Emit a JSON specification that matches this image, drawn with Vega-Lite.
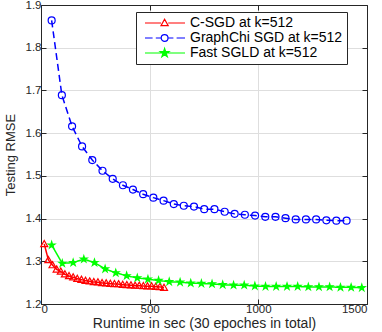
{
  "$schema": "https://vega.github.io/schema/vega-lite/v6.json",
  "autosize": "none",
  "width": 326,
  "height": 299,
  "padding": {"left": 41, "top": 5, "right": 15, "bottom": 28},
  "background": "white",
  "config": {
    "font": "Liberation Sans",
    "view": {"stroke": null},
    "axis": {
      "labelFontSize": 11.5,
      "labelColor": "#262626",
      "titleFontSize": 13,
      "titleFontWeight": "normal",
      "titleColor": "#262626",
      "domainColor": "#262626",
      "tickColor": "#262626",
      "gridColor": "#dedede",
      "gridWidth": 1
    }
  },
  "datasets": {
    "runs": [
      {"series": "C-SGD at k=512", "x": 15, "y": 1.3405},
      {"series": "C-SGD at k=512", "x": 34, "y": 1.303},
      {"series": "C-SGD at k=512", "x": 53, "y": 1.291},
      {"series": "C-SGD at k=512", "x": 72, "y": 1.281},
      {"series": "C-SGD at k=512", "x": 91, "y": 1.276},
      {"series": "C-SGD at k=512", "x": 110, "y": 1.2695},
      {"series": "C-SGD at k=512", "x": 129, "y": 1.2655},
      {"series": "C-SGD at k=512", "x": 148, "y": 1.2625},
      {"series": "C-SGD at k=512", "x": 167, "y": 1.259},
      {"series": "C-SGD at k=512", "x": 186, "y": 1.257},
      {"series": "C-SGD at k=512", "x": 205, "y": 1.2545},
      {"series": "C-SGD at k=512", "x": 224, "y": 1.253},
      {"series": "C-SGD at k=512", "x": 243, "y": 1.2515},
      {"series": "C-SGD at k=512", "x": 262, "y": 1.251},
      {"series": "C-SGD at k=512", "x": 281, "y": 1.249},
      {"series": "C-SGD at k=512", "x": 300, "y": 1.2485},
      {"series": "C-SGD at k=512", "x": 319, "y": 1.2475},
      {"series": "C-SGD at k=512", "x": 338, "y": 1.247},
      {"series": "C-SGD at k=512", "x": 357, "y": 1.2465},
      {"series": "C-SGD at k=512", "x": 376, "y": 1.245},
      {"series": "C-SGD at k=512", "x": 395, "y": 1.2445},
      {"series": "C-SGD at k=512", "x": 414, "y": 1.244},
      {"series": "C-SGD at k=512", "x": 433, "y": 1.243},
      {"series": "C-SGD at k=512", "x": 452, "y": 1.243},
      {"series": "C-SGD at k=512", "x": 471, "y": 1.242},
      {"series": "C-SGD at k=512", "x": 490, "y": 1.2415},
      {"series": "C-SGD at k=512", "x": 509, "y": 1.2415},
      {"series": "C-SGD at k=512", "x": 528, "y": 1.2405},
      {"series": "C-SGD at k=512", "x": 547, "y": 1.24},
      {"series": "C-SGD at k=512", "x": 566, "y": 1.238},
      {"series": "GraphChi SGD at k=512", "x": 49, "y": 1.864},
      {"series": "GraphChi SGD at k=512", "x": 96, "y": 1.689},
      {"series": "GraphChi SGD at k=512", "x": 143, "y": 1.616},
      {"series": "GraphChi SGD at k=512", "x": 189, "y": 1.569},
      {"series": "GraphChi SGD at k=512", "x": 236, "y": 1.537},
      {"series": "GraphChi SGD at k=512", "x": 283, "y": 1.512},
      {"series": "GraphChi SGD at k=512", "x": 330, "y": 1.493},
      {"series": "GraphChi SGD at k=512", "x": 377, "y": 1.478},
      {"series": "GraphChi SGD at k=512", "x": 423, "y": 1.468},
      {"series": "GraphChi SGD at k=512", "x": 470, "y": 1.457},
      {"series": "GraphChi SGD at k=512", "x": 517, "y": 1.449},
      {"series": "GraphChi SGD at k=512", "x": 564, "y": 1.442},
      {"series": "GraphChi SGD at k=512", "x": 611, "y": 1.434},
      {"series": "GraphChi SGD at k=512", "x": 657, "y": 1.43},
      {"series": "GraphChi SGD at k=512", "x": 704, "y": 1.428},
      {"series": "GraphChi SGD at k=512", "x": 751, "y": 1.422},
      {"series": "GraphChi SGD at k=512", "x": 798, "y": 1.422},
      {"series": "GraphChi SGD at k=512", "x": 845, "y": 1.416},
      {"series": "GraphChi SGD at k=512", "x": 891, "y": 1.411},
      {"series": "GraphChi SGD at k=512", "x": 938, "y": 1.409},
      {"series": "GraphChi SGD at k=512", "x": 985, "y": 1.407},
      {"series": "GraphChi SGD at k=512", "x": 1032, "y": 1.404},
      {"series": "GraphChi SGD at k=512", "x": 1079, "y": 1.404},
      {"series": "GraphChi SGD at k=512", "x": 1125, "y": 1.401},
      {"series": "GraphChi SGD at k=512", "x": 1172, "y": 1.398},
      {"series": "GraphChi SGD at k=512", "x": 1219, "y": 1.398},
      {"series": "GraphChi SGD at k=512", "x": 1266, "y": 1.398},
      {"series": "GraphChi SGD at k=512", "x": 1313, "y": 1.396},
      {"series": "GraphChi SGD at k=512", "x": 1359, "y": 1.395},
      {"series": "GraphChi SGD at k=512", "x": 1406, "y": 1.395},
      {"series": "Fast SGLD at k=512", "x": 49, "y": 1.338},
      {"series": "Fast SGLD at k=512", "x": 98, "y": 1.295},
      {"series": "Fast SGLD at k=512", "x": 148, "y": 1.297},
      {"series": "Fast SGLD at k=512", "x": 197, "y": 1.305},
      {"series": "Fast SGLD at k=512", "x": 246, "y": 1.297},
      {"series": "Fast SGLD at k=512", "x": 295, "y": 1.282},
      {"series": "Fast SGLD at k=512", "x": 344, "y": 1.273},
      {"series": "Fast SGLD at k=512", "x": 394, "y": 1.266},
      {"series": "Fast SGLD at k=512", "x": 443, "y": 1.261},
      {"series": "Fast SGLD at k=512", "x": 492, "y": 1.258},
      {"series": "Fast SGLD at k=512", "x": 541, "y": 1.255},
      {"series": "Fast SGLD at k=512", "x": 590, "y": 1.252},
      {"series": "Fast SGLD at k=512", "x": 640, "y": 1.251},
      {"series": "Fast SGLD at k=512", "x": 689, "y": 1.249},
      {"series": "Fast SGLD at k=512", "x": 738, "y": 1.248},
      {"series": "Fast SGLD at k=512", "x": 787, "y": 1.247},
      {"series": "Fast SGLD at k=512", "x": 836, "y": 1.245},
      {"series": "Fast SGLD at k=512", "x": 886, "y": 1.244},
      {"series": "Fast SGLD at k=512", "x": 935, "y": 1.244},
      {"series": "Fast SGLD at k=512", "x": 984, "y": 1.242},
      {"series": "Fast SGLD at k=512", "x": 1033, "y": 1.241},
      {"series": "Fast SGLD at k=512", "x": 1082, "y": 1.241},
      {"series": "Fast SGLD at k=512", "x": 1132, "y": 1.241},
      {"series": "Fast SGLD at k=512", "x": 1181, "y": 1.241},
      {"series": "Fast SGLD at k=512", "x": 1230, "y": 1.24},
      {"series": "Fast SGLD at k=512", "x": 1279, "y": 1.24},
      {"series": "Fast SGLD at k=512", "x": 1328, "y": 1.24},
      {"series": "Fast SGLD at k=512", "x": 1378, "y": 1.239},
      {"series": "Fast SGLD at k=512", "x": 1427, "y": 1.239},
      {"series": "Fast SGLD at k=512", "x": 1476, "y": 1.238}
    ]
  },
  "data": {"name": "runs"},
  "layer": [
    {
      "mark": {"type": "line", "strokeWidth": 1.5},
      "encoding": {
        "x": {"field": "x", "type": "quantitative", "scale": {"domain": [0, 1500], "nice": false},
              "axis": {"values": [0, 500, 1000, 1500], "format": "d", "title": "Runtime in sec (30 epoches in total)", "tickSize": -5, "labelPadding": 4, "titlePadding": 2, "grid": true, "titleFontSize": 14}},
        "y": {"field": "y", "type": "quantitative", "scale": {"domain": [1.2, 1.9], "nice": false, "zero": false},
              "axis": {"values": [1.2, 1.3, 1.4, 1.5, 1.6, 1.7, 1.8, 1.9], "format": ".1f", "title": "Testing RMSE", "tickSize": -5, "labelPadding": 5, "titlePadding": 8, "grid": true}},
        "color": {"field": "series", "type": "nominal", "legend": null,
                  "scale": {"domain": ["C-SGD at k=512", "GraphChi SGD at k=512", "Fast SGLD at k=512"], "range": ["#ff0000", "#0000ff", "#00ff00"]}},
        "strokeDash": {"field": "series", "type": "nominal", "legend": null,
                  "scale": {"domain": ["C-SGD at k=512", "GraphChi SGD at k=512", "Fast SGLD at k=512"], "range": [[1, 0], [7, 4], [1, 0]]}}
      }
    },
    {
      "mark": {"type": "point", "strokeWidth": 1.2, "opacity": 1},
      "encoding": {
        "x": {"field": "x", "type": "quantitative", "axis": null},
        "y": {"field": "y", "type": "quantitative", "axis": null},
        "stroke": {"field": "series", "type": "nominal", "legend": null,
                  "scale": {"domain": ["C-SGD at k=512", "GraphChi SGD at k=512", "Fast SGLD at k=512"], "range": ["#ff0000", "#0000ff", "#00ff00"]}},
        "fill": {"field": "series", "type": "nominal", "legend": null,
                  "scale": {"domain": ["C-SGD at k=512", "GraphChi SGD at k=512", "Fast SGLD at k=512"], "range": ["transparent", "transparent", "#00ff00"]}},
        "shape": {"field": "series", "type": "nominal", "legend": null,
                  "scale": {"domain": ["C-SGD at k=512", "GraphChi SGD at k=512", "Fast SGLD at k=512"], "range": ["M0,-1L1,0.75L-1,0.75Z", "circle", "M0,-1L0.225,-0.31L0.951,-0.309L0.363,0.118L0.588,0.809L0,0.38L-0.588,0.809L-0.363,0.118L-0.951,-0.309L-0.225,-0.31Z"]}},
        "size": {"field": "series", "type": "nominal", "legend": null,
                  "scale": {"domain": ["C-SGD at k=512", "GraphChi SGD at k=512", "Fast SGLD at k=512"], "range": [49, 49, 90]}}
      }
    },
    {
      "transform": [{"filter": "datum.y > 10"}],
      "mark": {"type": "point", "strokeWidth": 1.2},
      "encoding": {
        "x": {"field": "x", "type": "quantitative",
              "axis": {"orient": "top", "values": [0, 500, 1000, 1500], "labels": false, "title": null, "tickSize": -5, "grid": false}},
        "y": {"field": "y", "type": "quantitative",
              "axis": {"orient": "right", "values": [1.2, 1.3, 1.4, 1.5, 1.6, 1.7, 1.8, 1.9], "labels": false, "title": null, "tickSize": -5, "grid": false}},
        "stroke": {"field": "series", "type": "nominal",
                  "scale": {"domain": ["C-SGD at k=512", "GraphChi SGD at k=512", "Fast SGLD at k=512"], "range": ["#ff0000", "#0000ff", "#00ff00"]},
                  "legend": {"title": null, "orient": "none", "legendX": 95, "legendY": 7, "padding": 4, "strokeColor": "#262626", "fillColor": "white", "labelFontSize": 14, "labelColor": "#000000", "symbolSize": 64, "labelOffset": 36, "rowPadding": 1, "symbolStrokeWidth": 1.2, "symbolOpacity": 1}},
        "fill": {"field": "series", "type": "nominal",
                  "scale": {"domain": ["C-SGD at k=512", "GraphChi SGD at k=512", "Fast SGLD at k=512"], "range": ["transparent", "transparent", "#00ff00"]},
                  "legend": {"title": null, "orient": "none", "legendX": 95, "legendY": 7, "padding": 4, "strokeColor": "#262626", "fillColor": "white", "labelFontSize": 14, "labelColor": "#000000", "symbolSize": 64, "labelOffset": 36, "rowPadding": 1, "symbolStrokeWidth": 1.2, "symbolOpacity": 1}},
        "shape": {"field": "series", "type": "nominal",
                  "scale": {"domain": ["C-SGD at k=512", "GraphChi SGD at k=512", "Fast SGLD at k=512"],
                            "range": [
                              "M-0.5,0H3.5M5.3,0H9.5M4.4,-0.95L5.3,0.65L3.5,0.65Z",
                              "M-0.5,0H1.4M2.2,0H3.55M5.25,0H6.6M7.4,0H9.5M5.25,0A0.85,0.85,0,1,1,3.55,0A0.85,0.85,0,1,1,5.25,0",
                              "M-0.5,0H9.5M4.4,-1.15L4.659,-0.356L5.494,-0.355L4.818,0.136L5.076,0.93L4.4,0.44L3.724,0.93L3.982,0.136L3.306,-0.355L4.141,-0.356Z"
                            ]},
                  "legend": {"title": null, "orient": "none", "legendX": 95, "legendY": 7, "padding": 4, "strokeColor": "#262626", "fillColor": "white", "labelFontSize": 14, "labelColor": "#000000", "symbolSize": 64, "labelOffset": 36, "rowPadding": 1, "symbolStrokeWidth": 1.2, "symbolOpacity": 1}}
      }
    }
  ],
  "resolve": {
    "scale": {"color": "independent", "stroke": "independent", "fill": "independent", "shape": "independent", "size": "independent", "strokeDash": "independent"},
    "axis": {"x": "independent", "y": "independent"}
  }
}
